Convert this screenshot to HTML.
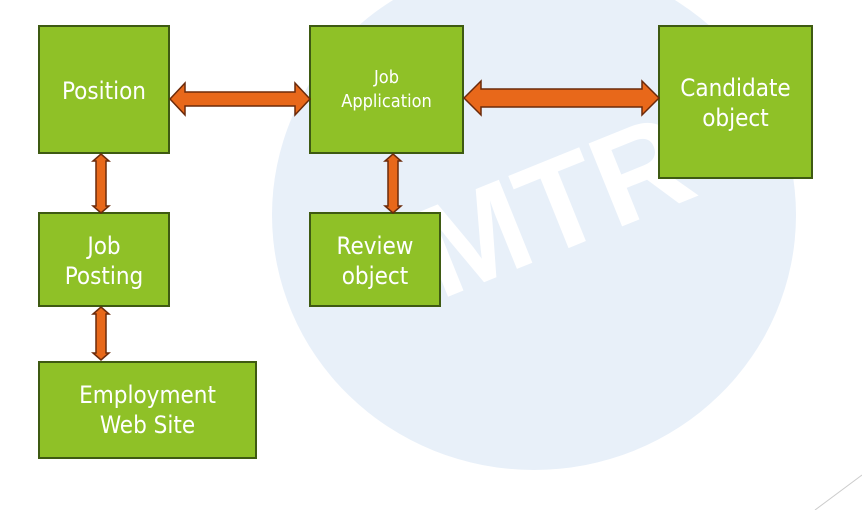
<!DOCTYPE html>
<html><head><style>
body{margin:0;width:862px;height:510px;overflow:hidden;background:#fff;position:relative;font-family:"DejaVu Sans Condensed","Liberation Sans",sans-serif;}
.b{position:absolute;background:#8fc127;border:2px solid #3e5a12;box-sizing:border-box;color:#fff;text-align:center;font-size:24px;line-height:30px;}
</style></head><body>
<svg width="862" height="510" style="position:absolute;left:0;top:0">
<ellipse cx="534" cy="215" rx="262" ry="255" fill="#e8f0f9"/>
<text x="0" y="0" transform="translate(440,300) rotate(-22)" font-family="Liberation Sans" font-weight="bold" font-size="130" fill="#fff">MTR</text>
<line x1="815" y1="510" x2="862" y2="475" stroke="#ccc" stroke-width="1"/>
</svg>
<div class="b" style="left:38px;top:25px;width:132px;height:129px;padding-top:49px;">Position</div>
<div class="b" style="left:309px;top:25px;width:155px;height:129px;padding-top:39px;font-size:18px;line-height:24px;">Job<br>Application</div>
<div class="b" style="left:658px;top:25px;width:155px;height:154px;padding-top:46px;">Candidate<br>object</div>
<div class="b" style="left:38px;top:212px;width:132px;height:95px;padding-top:17px;">Job<br>Posting</div>
<div class="b" style="left:309px;top:212px;width:132px;height:95px;padding-top:17px;">Review<br>object</div>
<div class="b" style="left:38px;top:361px;width:219px;height:98px;padding-top:17px;">Employment<br>Web Site</div>
<svg width="862" height="510" style="position:absolute;left:0;top:0">
<g fill="#e8681a" stroke="#6b2a0a" stroke-width="1.5" stroke-linejoin="miter">
<polygon points="170,99 185,83 185,92 295,92 295,83 310,99 295,115 295,106 185,106 185,115"/>
<polygon points="464,98 481,81 481,89 642,89 642,81 659,98 642,115 642,107 481,107 481,115"/>
<polygon points="101,154 109,161 106,161 106,206 109,206 101,213 93,206 96,206 96,161 93,161"/>
<polygon points="101,307 109,314 106,314 106,353 109,353 101,360 93,353 96,353 96,314 93,314"/>
<polygon points="393,154 401,161 398,161 398,206 401,206 393,213 385,206 388,206 388,161 385,161"/>
</g>
</svg>
</body></html>
